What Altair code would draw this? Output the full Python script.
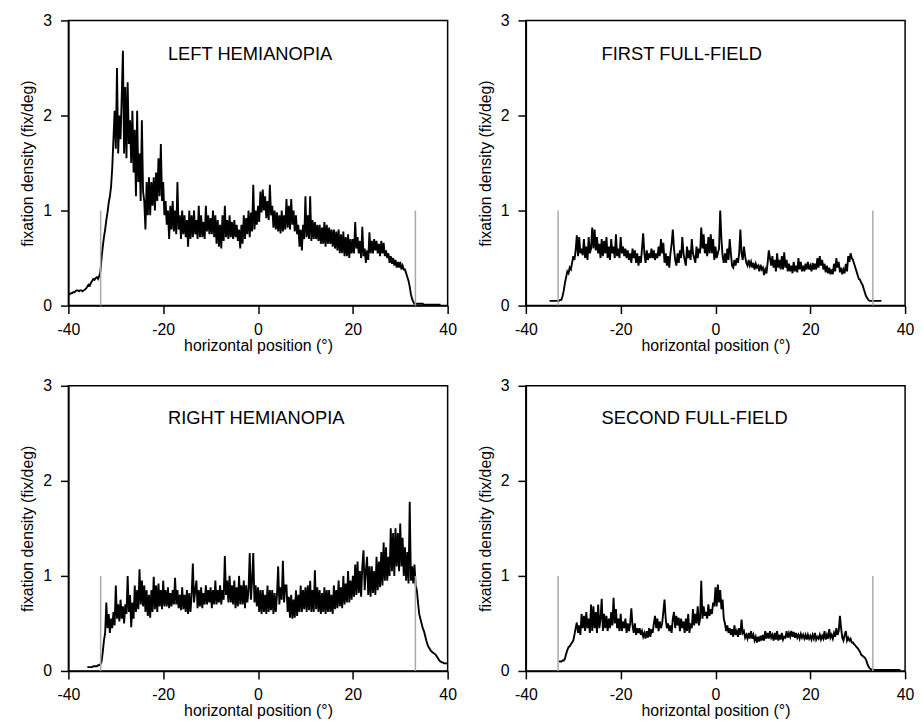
import altair as alt
import pandas as pd

FONT = "Liberation Sans"
STEP = 0.25

X_TICKS = [-40, -20, 0, 20, 40]
Y_TICKS = [0, 1, 2, 3]
BORDER_X = [-33.2, 33.2]   # grey screen-edge markers
BORDER_TOP = [1.0, 1.0]

# ---------------- LEFT HEMIANOPIA (starts at -40) ----------------
LEFT_START = -40.0
LEFT_Y = [
    0.12, 0.12, 0.13, 0.13,   # -40
    0.14, 0.14, 0.15, 0.16,   # -39
    0.16, 0.15, 0.16, 0.16,   # -38
    0.15, 0.16, 0.17, 0.18,   # -37
    0.20, 0.22, 0.21, 0.24,   # -36
    0.26, 0.28, 0.27, 0.29,   # -35
    0.30, 0.28, 0.31, 0.36,   # -34
    0.50, 0.62, 0.72, 0.80,   # -33
    0.90, 0.98, 1.08, 1.15,   # -32
    1.25, 1.45, 1.75, 2.05,   # -31
    1.65, 2.50, 1.60, 2.00,   # -30
    1.75, 2.20, 2.68, 1.60,   # -29
    2.30, 1.55, 2.35, 1.70,   # -28
    1.95, 1.50, 2.05, 1.40,   # -27
    1.85, 1.15, 2.05, 1.30,   # -26
    1.60, 1.10, 1.95, 1.20,   # -25
    1.10, 0.80, 1.30, 0.95,   # -24
    1.35, 0.95, 1.30, 1.05,   # -23
    1.35, 1.00, 1.40, 1.10,   # -22
    1.55, 1.15, 1.70, 1.10,   # -21
    1.30, 0.95, 1.10, 0.85,   # -20
    1.00, 0.70, 1.05, 0.80,   # -19
    1.10, 0.78, 1.00, 0.75,   # -18
    1.30, 0.80, 0.95, 0.70,   # -17
    1.00, 0.75, 0.95, 0.72,   # -16
    0.90, 0.62, 1.00, 0.70,   # -15
    0.95, 0.72, 1.00, 0.75,   # -14
    0.90, 0.70, 1.05, 0.72,   # -13
    0.95, 0.72, 0.88, 0.70,   # -12
    1.05, 0.78, 0.95, 0.75,   # -11
    0.92, 0.75, 1.00, 0.72,   # -10
    0.95, 0.65, 0.90, 0.62,   # -9
    0.85, 0.60, 0.95, 0.68,   # -8
    1.05, 0.72, 0.90, 0.70,   # -7
    0.95, 0.72, 0.88, 0.70,   # -6
    0.90, 0.72, 0.85, 0.68,   # -5
    0.80, 0.60, 0.85, 0.65,   # -4
    0.95, 0.70, 0.92, 0.75,   # -3
    1.00, 0.72, 0.98, 0.78,   # -2
    1.27, 0.80, 1.00, 0.85,   # -1
    1.05, 0.88, 1.20, 0.98,   # 0
    1.22, 1.00, 1.15, 0.92,   # 1
    1.10, 0.90, 1.27, 0.95,   # 2
    1.05, 0.82, 1.00, 0.80,   # 3
    0.98, 0.78, 0.95, 0.76,   # 4
    1.00, 0.78, 0.95, 0.80,   # 5
    1.12, 0.82, 1.05, 0.80,   # 6
    1.12, 0.85, 1.00, 0.78,   # 7
    0.95, 0.75, 0.85, 0.62,   # 8
    0.80, 0.58, 0.85, 0.70,   # 9
    1.15, 0.72, 0.95, 0.70,   # 10
    1.15, 0.68, 0.90, 0.70,   # 11
    0.88, 0.70, 0.85, 0.68,   # 12
    0.85, 0.65, 0.82, 0.65,   # 13
    0.88, 0.62, 0.85, 0.65,   # 14
    0.82, 0.65, 0.80, 0.62,   # 15
    0.80, 0.60, 0.78, 0.58,   # 16
    0.80, 0.55, 0.75, 0.55,   # 17
    0.78, 0.52, 0.72, 0.52,   # 18
    0.75, 0.50, 0.70, 0.55,   # 19
    0.70, 0.55, 0.88, 0.60,   # 20
    0.72, 0.55, 0.68, 0.50,   # 21
    0.83, 0.52, 0.60, 0.45,   # 22
    0.58, 0.48, 0.77, 0.55,   # 23
    0.68, 0.55, 0.70, 0.58,   # 24
    0.68, 0.55, 0.65, 0.52,   # 25
    0.68, 0.55, 0.66, 0.52,   # 26
    0.58, 0.50, 0.55, 0.45,   # 27
    0.52, 0.44, 0.50, 0.42,   # 28
    0.48, 0.40, 0.46, 0.40,   # 29
    0.46, 0.38, 0.42, 0.38,   # 30
    0.38, 0.34, 0.30, 0.26,   # 31
    0.20, 0.12, 0.07, 0.04,   # 32
    0.02, 0.02, 0.02, 0.02,   # 33
    0.02, 0.02, 0.02, 0.02,   # 34
    0.01, 0.01, 0.01, 0.01,   # 35
    0.01, 0.01, 0.01, 0.01,   # 36
    0.01, 0.01, 0.01, 0.01,   # 37
    0.01, 0.01, 0.01,         # 38
]

# ---------------- FIRST FULL-FIELD (starts at -35) ----------------
FIRST_START = -35.0
FIRST_Y = [
    0.05, 0.05, 0.05, 0.05,   # -35
    0.05, 0.05, 0.05, 0.05,   # -34
    0.05, 0.06, 0.06, 0.10,   # -33
    0.16, 0.24, 0.30, 0.36,   # -32
    0.34, 0.40, 0.38, 0.45,   # -31
    0.52, 0.48, 0.58, 0.74,   # -30
    0.52, 0.72, 0.55, 0.60,   # -29
    0.53, 0.70, 0.50, 0.62,   # -28
    0.48, 0.72, 0.55, 0.60,   # -27
    0.82, 0.60, 0.80, 0.58,   # -26
    0.72, 0.55, 0.65, 0.50,   # -25
    0.70, 0.52, 0.68, 0.55,   # -24
    0.72, 0.50, 0.62, 0.48,   # -23
    0.70, 0.55, 0.62, 0.50,   # -22
    0.75, 0.52, 0.60, 0.50,   # -21
    0.72, 0.55, 0.62, 0.52,   # -20
    0.60, 0.50, 0.58, 0.48,   # -19
    0.55, 0.45, 0.60, 0.50,   # -18
    0.58, 0.45, 0.55, 0.42,   # -17
    0.52, 0.45, 0.60, 0.76,   # -16
    0.55, 0.45, 0.58, 0.48,   # -15
    0.55, 0.50, 0.60, 0.50,   # -14
    0.58, 0.48, 0.55, 0.50,   # -13
    0.62, 0.52, 0.70, 0.55,   # -12
    0.66, 0.45, 0.55, 0.42,   # -11
    0.52, 0.40, 0.55, 0.65,   # -10
    0.80, 0.60, 0.48, 0.42,   # -9
    0.55, 0.45, 0.58, 0.50,   # -8
    0.72, 0.55, 0.48, 0.42,   # -7
    0.62, 0.50, 0.58, 0.48,   # -6
    0.70, 0.55, 0.50, 0.45,   # -5
    0.62, 0.50, 0.60, 0.55,   # -4
    0.82, 0.60, 0.75, 0.55,   # -3
    0.65, 0.52, 0.72, 0.55,   # -2
    0.75, 0.55, 0.70, 0.48,   # -1
    0.62, 0.50, 0.55, 0.60,   # 0
    1.00, 0.70, 0.52, 0.45,   # 1
    0.55, 0.45, 0.60, 0.48,   # 2
    0.70, 0.55, 0.42, 0.40,   # 3
    0.48, 0.42, 0.50, 0.45,   # 4
    0.55, 0.80, 0.55, 0.48,   # 5
    0.62, 0.52, 0.45, 0.42,   # 6
    0.48, 0.42, 0.46, 0.40,   # 7
    0.45, 0.38, 0.44, 0.40,   # 8
    0.42, 0.36, 0.43, 0.38,   # 9
    0.40, 0.32, 0.38, 0.34,   # 10
    0.45, 0.58, 0.50, 0.42,   # 11
    0.52, 0.40, 0.48, 0.36,   # 12
    0.55, 0.40, 0.48, 0.38,   # 13
    0.52, 0.38, 0.56, 0.40,   # 14
    0.48, 0.36, 0.44, 0.36,   # 15
    0.42, 0.34, 0.46, 0.36,   # 16
    0.42, 0.35, 0.50, 0.38,   # 17
    0.46, 0.36, 0.42, 0.36,   # 18
    0.44, 0.38, 0.46, 0.38,   # 19
    0.42, 0.36, 0.45, 0.38,   # 20
    0.44, 0.38, 0.50, 0.40,   # 21
    0.52, 0.42, 0.48, 0.38,   # 22
    0.44, 0.35, 0.42, 0.34,   # 23
    0.40, 0.33, 0.38, 0.33,   # 24
    0.44, 0.36, 0.50, 0.40,   # 25
    0.46, 0.35, 0.40, 0.33,   # 26
    0.38, 0.34, 0.44, 0.36,   # 27
    0.52, 0.46, 0.55, 0.50,   # 28
    0.48, 0.44, 0.40, 0.36,   # 29
    0.32, 0.28, 0.27, 0.24,   # 30
    0.22, 0.18, 0.14, 0.10,   # 31
    0.08, 0.06, 0.05, 0.05,   # 32
    0.05, 0.05, 0.05, 0.05,   # 33
    0.05, 0.05, 0.05, 0.05,   # 34
    0.05,                     # 35
]

# ---------------- RIGHT HEMIANOPIA (starts at -36) ----------------
RIGHT_START = -36.0
RIGHT_Y = [
    0.04, 0.04, 0.04, 0.04,   # -36
    0.04, 0.05, 0.05, 0.05,   # -35
    0.05, 0.06, 0.06, 0.07,   # -34
    0.10, 0.20, 0.32, 0.40,   # -33
    0.72, 0.45, 0.60, 0.40,   # -32
    0.55, 0.45, 0.62, 0.48,   # -31
    0.90, 0.55, 0.70, 0.52,   # -30
    0.75, 0.55, 0.68, 0.50,   # -29
    0.70, 0.60, 1.00, 0.62,   # -28
    0.80, 0.46, 0.72, 0.55,   # -27
    0.90, 0.62, 0.85, 0.65,   # -26
    1.07, 0.70, 0.95, 0.68,   # -25
    0.90, 0.62, 0.85, 0.58,   # -24
    0.80, 0.56, 0.85, 0.62,   # -23
    0.99, 0.65, 0.90, 0.62,   # -22
    0.92, 0.68, 0.85, 0.65,   # -21
    0.95, 0.68, 0.85, 0.68,   # -20
    0.88, 0.66, 0.82, 0.68,   # -19
    0.85, 0.70, 0.98, 0.70,   # -18
    0.85, 0.66, 0.80, 0.64,   # -17
    0.88, 0.65, 0.80, 0.62,   # -16
    0.85, 0.60, 0.82, 0.62,   # -15
    0.80, 1.13, 0.72, 0.85,   # -14
    0.95, 0.66, 0.85, 0.68,   # -13
    0.88, 0.66, 0.82, 0.70,   # -12
    0.90, 0.70, 0.85, 0.72,   # -11
    0.88, 0.66, 0.85, 0.70,   # -10
    0.95, 0.70, 0.85, 0.72,   # -9
    0.90, 0.70, 0.85, 0.75,   # -8
    1.21, 0.80, 0.95, 0.72,   # -7
    1.00, 0.72, 0.90, 0.70,   # -6
    0.95, 0.66, 0.88, 0.68,   # -5
    1.00, 0.70, 0.90, 0.70,   # -4
    0.95, 0.66, 0.90, 0.72,   # -3
    0.85, 1.24, 0.75, 0.95,   # -2
    1.24, 0.72, 0.90, 0.68,   # -1
    0.88, 0.62, 0.85, 0.60,   # 0
    0.85, 0.62, 0.80, 0.60,   # 1
    0.90, 0.62, 0.85, 0.64,   # 2
    0.85, 0.60, 0.82, 0.62,   # 3
    0.80, 1.10, 0.70, 0.88,   # 4
    0.75, 1.16, 0.72, 0.90,   # 5
    0.90, 0.62, 0.78, 0.56,   # 6
    0.80, 0.55, 0.75, 0.56,   # 7
    0.85, 0.58, 0.80, 0.62,   # 8
    0.90, 0.62, 0.85, 0.65,   # 9
    0.88, 0.62, 0.90, 0.64,   # 10
    0.95, 0.62, 0.85, 0.62,   # 11
    1.06, 0.65, 0.88, 0.62,   # 12
    0.85, 0.60, 0.82, 0.62,   # 13
    0.88, 0.60, 0.85, 0.62,   # 14
    0.85, 0.62, 0.80, 0.60,   # 15
    0.90, 0.65, 0.85, 0.66,   # 16
    0.95, 0.68, 0.88, 0.66,   # 17
    1.00, 0.70, 0.92, 0.72,   # 18
    1.05, 0.72, 0.95, 0.75,   # 19
    1.00, 0.78, 1.12, 0.80,   # 20
    1.15, 0.82, 1.05, 0.78,   # 21
    1.10, 1.27, 0.85, 1.05,   # 22
    1.20, 0.80, 1.10, 0.78,   # 23
    1.10, 0.82, 1.05, 0.80,   # 24
    1.20, 0.85, 1.15, 0.88,   # 25
    1.25, 0.90, 1.35, 0.95,   # 26
    1.30, 0.95, 1.20, 1.00,   # 27
    1.50, 1.05, 1.45, 1.00,   # 28
    1.50, 1.10, 1.45, 1.05,   # 29
    1.55, 1.10, 1.40, 1.00,   # 30
    1.30, 0.95, 1.25, 0.92,   # 31
    1.78, 0.95, 1.10, 0.92,   # 32
    1.12, 0.90, 0.85, 0.72,   # 33
    0.60, 0.55, 0.50, 0.45,   # 34
    0.42, 0.37, 0.32, 0.28,   # 35
    0.25, 0.23, 0.21, 0.20,   # 36
    0.19, 0.18, 0.17, 0.15,   # 37
    0.13, 0.11, 0.10, 0.09,   # 38
    0.09, 0.08, 0.08, 0.08,   # 39
    0.08,                     # 40
]

# ---------------- SECOND FULL-FIELD (starts at -33) ----------------
SECOND_START = -33.0
SECOND_Y = [
    0.10, 0.10, 0.10, 0.11,   # -33
    0.11, 0.13, 0.18, 0.22,   # -32
    0.25, 0.26, 0.28, 0.30,   # -31
    0.32, 0.38, 0.45, 0.51,   # -30
    0.40, 0.48, 0.38, 0.60,   # -29
    0.45, 0.58, 0.42, 0.62,   # -28
    0.45, 0.55, 0.40, 0.70,   # -27
    0.42, 0.68, 0.45, 0.62,   # -26
    0.40, 0.70, 0.45, 0.55,   # -25
    0.76, 0.42, 0.60, 0.45,   # -24
    0.58, 0.42, 0.55, 0.45,   # -23
    0.62, 0.48, 0.77, 0.50,   # -22
    0.65, 0.45, 0.55, 0.42,   # -21
    0.60, 0.42, 0.52, 0.45,   # -20
    0.55, 0.40, 0.50, 0.42,   # -19
    0.50, 0.66, 0.48, 0.40,   # -18
    0.50, 0.38, 0.45, 0.40,   # -17
    0.45, 0.38, 0.42, 0.36,   # -16
    0.40, 0.34, 0.42, 0.35,   # -15
    0.45, 0.36, 0.44, 0.40,   # -14
    0.50, 0.58, 0.45, 0.55,   # -13
    0.42, 0.52, 0.45, 0.50,   # -12
    0.62, 0.75, 0.55, 0.45,   # -11
    0.50, 0.42, 0.48, 0.40,   # -10
    0.55, 0.62, 0.45, 0.58,   # -9
    0.48, 0.56, 0.42, 0.55,   # -8
    0.45, 0.52, 0.40, 0.55,   # -7
    0.42, 0.60, 0.40, 0.50,   # -6
    0.45, 0.65, 0.48, 0.60,   # -5
    0.50, 0.68, 0.48, 0.55,   # -4
    0.95, 0.55, 0.68, 0.58,   # -3
    0.62, 0.55, 0.70, 0.58,   # -2
    0.65, 0.60, 0.72, 0.68,   # -1
    0.88, 0.68, 0.91, 0.72,   # 0
    0.85, 0.65, 0.75, 0.55,   # 1
    0.50, 0.42, 0.48, 0.40,   # 2
    0.45, 0.38, 0.44, 0.36,   # 3
    0.48, 0.38, 0.42, 0.36,   # 4
    0.45, 0.38, 0.54, 0.40,   # 5
    0.42, 0.35, 0.38, 0.34,   # 6
    0.40, 0.34, 0.42, 0.34,   # 7
    0.38, 0.32, 0.36, 0.30,   # 8
    0.36, 0.31, 0.37, 0.32,   # 9
    0.38, 0.32, 0.42, 0.34,   # 10
    0.40, 0.34, 0.42, 0.35,   # 11
    0.38, 0.32, 0.40, 0.33,   # 12
    0.42, 0.32, 0.38, 0.33,   # 13
    0.40, 0.33, 0.36, 0.35,   # 14
    0.42, 0.35, 0.40, 0.36,   # 15
    0.42, 0.36, 0.41, 0.35,   # 16
    0.40, 0.35, 0.38, 0.34,   # 17
    0.39, 0.35, 0.38, 0.34,   # 18
    0.38, 0.33, 0.38, 0.34,   # 19
    0.37, 0.33, 0.38, 0.34,   # 20
    0.40, 0.33, 0.36, 0.34,   # 21
    0.38, 0.33, 0.37, 0.34,   # 22
    0.42, 0.33, 0.38, 0.34,   # 23
    0.44, 0.35, 0.38, 0.34,   # 24
    0.40, 0.36, 0.45, 0.38,   # 25
    0.42, 0.58, 0.45, 0.35,   # 26
    0.32, 0.38, 0.42, 0.32,   # 27
    0.35, 0.32, 0.34, 0.30,   # 28
    0.30, 0.28, 0.27, 0.25,   # 29
    0.24, 0.22, 0.20, 0.17,   # 30
    0.16, 0.15, 0.14, 0.12,   # 31
    0.08, 0.05, 0.03, 0.02,   # 32
    0.01, 0.01, 0.01, 0.01,   # 33
    0.01, 0.01, 0.01, 0.01,   # 34
    0.01, 0.01, 0.01, 0.01,   # 35
    0.01, 0.01, 0.01, 0.01,   # 36
    0.01, 0.01, 0.01, 0.01,   # 37
    0.01, 0.01, 0.01, 0.01,   # 38
    0.01,                     # 39
]

PANELS = [
    ("LEFT HEMIANOPIA", LEFT_START, LEFT_Y, 100.5, 34),
    ("FIRST FULL-FIELD", FIRST_START, FIRST_Y, 76.5, 34),
    ("RIGHT HEMIANOPIA", RIGHT_START, RIGHT_Y, 100.5, 33),
    ("SECOND FULL-FIELD", SECOND_START, SECOND_Y, 76.5, 33),
]

X_SCALE = alt.Scale(domain=[-40, 40], nice=False, zero=False)
Y_SCALE = alt.Scale(domain=[0, 3], nice=False, zero=False)
X_AXIS = alt.Axis(values=X_TICKS, title="horizontal position (°)",
                  labelExpr="'' + datum.value")
Y_AXIS = alt.Axis(values=Y_TICKS, title="fixation density (fix/deg)",
                  labelExpr="'' + datum.value")

border_df = pd.DataFrame({"x": BORDER_X, "y": [0.0, 0.0], "y2": BORDER_TOP})


def panel(title, start, ys, tx, ty):
    df = pd.DataFrame({"x": [start + STEP * i for i in range(len(ys))], "y": ys})
    line = alt.Chart(df).mark_line(color="black", strokeWidth=1.9).encode(
        x=alt.X("x:Q", scale=X_SCALE, axis=X_AXIS),
        y=alt.Y("y:Q", scale=Y_SCALE, axis=Y_AXIS),
    )
    rules = alt.Chart(border_df).mark_rule(color="#a8a8a8", strokeWidth=1.5).encode(
        x=alt.X("x:Q", scale=X_SCALE, axis=X_AXIS),
        y=alt.Y("y:Q", scale=Y_SCALE, axis=Y_AXIS),
        y2="y2:Q",
    )
    label = alt.Chart(pd.DataFrame({"label": [title]})).mark_text(
        align="left", baseline="middle", fontSize=18.5, font=FONT, color="black"
    ).encode(x=alt.value(tx), y=alt.value(ty), text="label:N")
    return alt.layer(line, rules, label).properties(width=383, height=288)


charts = [panel(*p) for p in PANELS]

chart = alt.concat(
    *charts, columns=2, spacing=alt.RowColnumber(row=81, column=79), bounds="flush"
).properties(
    padding={"left": 11, "top": 0, "right": 0, "bottom": 0}
).configure_view(
    stroke="black", strokeWidth=1.5
).configure_axis(
    grid=False, domainColor="black", tickColor="black", labelColor="black",
    titleColor="black", labelFont=FONT, titleFont=FONT, labelFontSize=16,
    titleFontSize=16, titleFontWeight="normal", tickSize=8, labelFlush=False,
    labelOverlap=False, domainWidth=1.5, tickWidth=1.5
).configure_axisX(
    labelPadding=8, titlePadding=0
).configure_axisY(
    labelPadding=9, titlePadding=7
)

chart.save("out.html", embed_options={"renderer": "svg", "actions": False})
